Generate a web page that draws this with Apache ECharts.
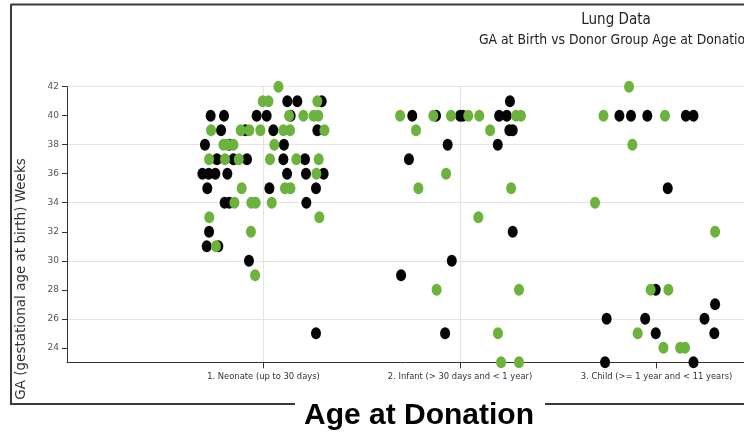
<!DOCTYPE html>
<html>
<head>
<meta charset="utf-8">
<script src="https://cdn.jsdelivr.net/npm/echarts@6/dist/echarts.min.js"></script>
<style>
  html, body { margin: 0; padding: 0; background: #fff; }
  #chart_lung { width: 744px; height: 435px; }
</style>
</head>
<body>
<div id="chart_lung"></div>
<script>
// donor age groups, placed at x = 1, 2, 3 (points are jittered around them)
const categories = [
  "1. Neonate (up to 30 days)",
  "2. Infant (> 30 days and < 1 year)",
  "3. Child (>= 1 year and < 11 years)",
];
const yTicks = [24, 26, 28, 30, 32, 34, 36, 38, 40, 42];

// [jittered group position, GA weeks]
const blackPts = [
  [1.121, 41], [1.172, 41], [1.296, 41],
  [0.731, 40], [0.799, 40], [0.965, 40], [1.016, 40], [1.138, 40],
  [0.784, 39], [0.908, 39], [1.050, 39], [1.274, 39],
  [0.702, 38], [0.826, 38], [1.104, 38],
  [0.763, 37], [0.847, 37], [0.916, 37], [1.101, 37], [1.211, 37],
  [0.689, 36], [0.721, 36], [0.755, 36], [0.816, 36], [1.120, 36], [1.216, 36], [1.306, 36],
  [0.714, 35], [1.030, 35], [1.267, 35],
  [0.802, 34], [0.826, 34], [1.218, 34],
  [0.723, 32], [0.711, 31], [0.770, 31], [0.926, 30], [1.267, 25],
  [2.254, 41],
  [1.757, 40], [1.878, 40], [2.000, 40], [2.014, 40], [2.199, 40], [2.238, 40],
  [2.251, 39], [2.268, 39], [1.937, 38], [2.192, 38], [1.740, 37],
  [2.268, 32], [1.958, 30], [1.700, 29], [1.924, 25],
  [2.811, 40], [2.870, 40], [2.953, 40], [3.149, 40], [3.188, 40],
  [3.057, 35], [2.996, 28], [3.298, 27],
  [2.746, 26], [2.942, 26], [3.244, 26],
  [2.996, 25], [3.294, 25], [2.738, 23], [3.188, 23],
];
const greenPts = [
  [1.076, 42],
  [0.996, 41], [1.025, 41], [1.274, 41],
  [1.130, 40], [1.203, 40], [1.255, 40], [1.279, 40],
  [0.733, 39], [0.884, 39], [0.928, 39], [0.984, 39], [1.101, 39], [1.135, 39], [1.310, 39],
  [0.796, 38], [0.816, 38], [0.847, 38], [1.055, 38],
  [0.723, 37], [0.804, 37], [0.874, 37], [1.033, 37], [1.167, 37], [1.281, 37],
  [1.269, 36],
  [0.889, 35], [1.109, 35], [1.137, 35],
  [0.852, 34], [0.938, 34], [0.960, 34], [1.042, 34],
  [0.724, 33], [1.284, 33], [0.936, 32], [0.758, 31], [0.957, 29],
  [1.695, 40], [1.864, 40], [1.954, 40], [2.042, 40], [2.098, 40], [2.285, 40], [2.310, 40],
  [1.776, 39], [2.153, 39], [1.929, 36], [1.788, 35], [2.260, 35], [2.093, 33],
  [1.881, 28], [2.300, 28], [2.193, 25], [2.209, 23], [2.300, 23],
  [2.860, 42], [2.730, 40], [3.043, 40], [2.877, 38], [2.687, 34], [3.298, 32],
  [2.970, 28], [3.060, 28], [2.904, 25], [3.035, 24], [3.120, 24], [3.145, 24],
];

const chart = echarts.init(document.getElementById("chart_lung"));
const frameColor = "#3a3a3a";
const condensed = "'DejaVu Sans Condensed', 'Liberation Sans Narrow', 'DejaVu Sans', sans-serif";

let option = {
  backgroundColor: "#fff",
  animation: false,
  title: {
    text: "Lung Data",
    subtext: "GA at Birth vs Donor Group Age at Donation",
    left: 611,
    top: 8,
    textAlign: "center",
    itemGap: 5,
    textStyle: { fontFamily: condensed, fontSize: 15, fontWeight: "normal", color: "#222" },
    subtextStyle: { fontFamily: condensed, fontSize: 13.8, color: "#222" },
  },
  grid: { left: 67, right: 0, top: 86.7, bottom: 72.7, containLabel: false },
  xAxis: {
    type: "value",
    min: 0,
    max: 3.445,
    interval: 1,
    axisLine: { lineStyle: { color: "#333", width: 1 } },
    axisTick: { customValues: [1, 2, 3], length: 6, lineStyle: { color: "#333" } },
    axisLabel: {
      customValues: [1, 2, 3],
      formatter: (v) => categories[Math.round(v) - 1],
      fontFamily: "DejaVu Sans",
      fontSize: 8.4,
      color: "#333",
      margin: 11,
    },
    splitLine: { show: true, showMaxLine: false, lineStyle: { color: "#e4e4e4" } },
  },
  yAxis: {
    type: "value",
    min: 23,
    max: 42,
    interval: 1,
    axisLine: { show: true, lineStyle: { color: "#333", width: 1 } },
    axisTick: { show: true, customValues: yTicks, length: 5, lineStyle: { color: "#333" } },
    axisLabel: {
      customValues: yTicks,
      fontFamily: "DejaVu Sans",
      fontSize: 9,
      color: "#555",
      margin: 8,
      padding: [0, 0, 5, 0],
    },
    // ticks every week, only the even ones get a visible line
    splitLine: { show: true, lineStyle: { color: ["rgba(0,0,0,0)", "#e4e4e4"] } },
  },
  series: [
    {
      name: "black",
      type: "scatter",
      symbol: "circle",
      symbolSize: [10, 12],
      itemStyle: { color: "#050505", opacity: 1 },
      data: blackPts,
    },
    {
      name: "green",
      type: "scatter",
      symbol: "circle",
      symbolSize: [10, 12],
      itemStyle: { color: "#6cb33e", opacity: 1 },
      data: greenPts,
    },
  ],
  graphic: [
    { type: "line", shape: { x1: 11, y1: 4.5, x2: 744, y2: 4.5 }, style: { stroke: frameColor, lineWidth: 2 } },
    { type: "line", shape: { x1: 11, y1: 4, x2: 11, y2: 404 }, style: { stroke: frameColor, lineWidth: 2 } },
    { type: "line", shape: { x1: 10, y1: 404, x2: 295, y2: 404 }, style: { stroke: frameColor, lineWidth: 2 } },
    { type: "line", shape: { x1: 545, y1: 404, x2: 744, y2: 404 }, style: { stroke: frameColor, lineWidth: 2 } },
    {
      type: "text",
      x: 21,
      y: 279,
      rotation: Math.PI / 2,
      style: {
        text: "GA (gestational age at birth) Weeks",
        fontFamily: "'DejaVu Sans', sans-serif",
        fontSize: 13.5,
        fill: "#333",
        align: "center",
        verticalAlign: "middle",
      },
    },
    {
      type: "text",
      x: 419,
      y: 416,
      style: {
        text: "Age at Donation",
        fontFamily: "'Liberation Sans', Arial, sans-serif",
        fontWeight: "bold",
        fontSize: 30,
        fill: "#000",
        align: "center",
        verticalAlign: "middle",
      },
    },
  ],
};
chart.setOption(option);
</script>
</body>
</html>
